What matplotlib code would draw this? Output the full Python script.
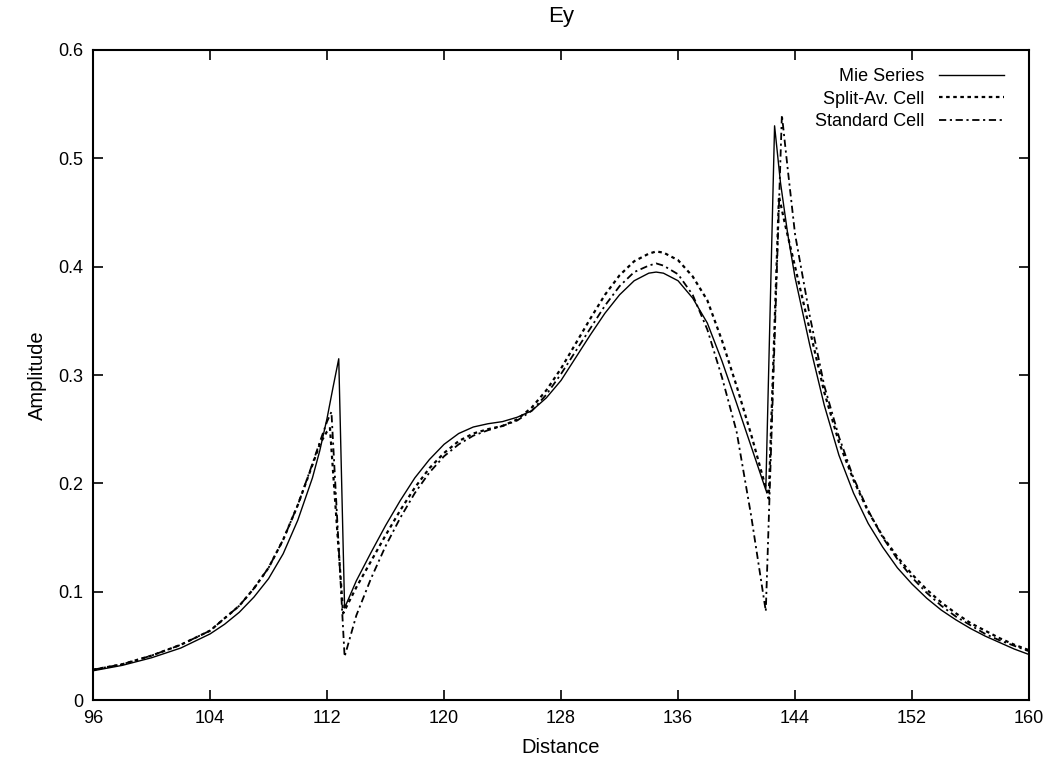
import numpy as np
import matplotlib
matplotlib.use("Agg")
import matplotlib.pyplot as plt

plt.rcParams['font.family'] = ['Liberation Sans', 'DejaVu Sans']

# Mie Series (exact solution)
mie_x = [96, 98, 100, 102, 104, 105, 106, 107, 108, 109, 110, 111, 111.5, 112, 112.4, 112.8,
         113.2, 114, 115, 116, 117, 118, 119, 120, 121, 122, 123, 124, 125, 126, 127, 128,
         129, 130, 131, 132, 133, 134, 134.5, 135, 136, 137, 138, 139, 140, 141, 142,
         142.6, 143, 143.5, 144, 145, 146, 147, 148, 149, 150, 151, 152, 153, 154, 155,
         156, 157, 158, 159, 160]
mie_y = [0.027, 0.032, 0.039, 0.048, 0.061, 0.070, 0.081, 0.095, 0.112, 0.135, 0.166, 0.205, 0.230, 0.260, 0.288, 0.315,
         0.085, 0.110, 0.136, 0.161, 0.184, 0.205, 0.222, 0.236, 0.246, 0.252, 0.255, 0.257, 0.261, 0.267, 0.279, 0.295,
         0.316, 0.337, 0.357, 0.374, 0.387, 0.394, 0.395, 0.394, 0.387, 0.371, 0.348, 0.313, 0.274, 0.234, 0.194,
         0.530, 0.478, 0.430, 0.390, 0.328, 0.272, 0.226, 0.191, 0.163, 0.141, 0.122, 0.107, 0.094, 0.083, 0.074,
         0.066, 0.059, 0.053, 0.047, 0.042]

# Split-Av. Cell
split_x = [96, 98, 100, 102, 104, 106, 107, 108, 109, 110, 111, 111.5, 112, 112.2,
           113.1, 114, 115, 116, 117, 118, 119, 120, 121, 122, 123, 124, 125, 126, 127, 128,
           129, 130, 131, 132, 133, 134, 134.5, 135, 136, 137, 138, 139, 140, 141, 142, 142.2,
           142.9, 143.3, 144, 145, 146, 147, 148, 149, 150, 151, 152, 153, 154, 155,
           156, 157, 158, 159, 160]
split_y = [0.028, 0.033, 0.041, 0.051, 0.064, 0.087, 0.103, 0.122, 0.148, 0.180, 0.217, 0.236, 0.248, 0.251,
           0.080, 0.104, 0.128, 0.152, 0.175, 0.196, 0.214, 0.228, 0.239, 0.246, 0.250, 0.253, 0.259, 0.270, 0.286, 0.306,
           0.329, 0.352, 0.374, 0.392, 0.405, 0.412, 0.414, 0.413, 0.406, 0.391, 0.369, 0.332, 0.290, 0.245, 0.196, 0.186,
           0.465, 0.440, 0.400, 0.342, 0.284, 0.238, 0.203, 0.174, 0.151, 0.132, 0.116, 0.102, 0.090, 0.080,
           0.071, 0.064, 0.057, 0.051, 0.046]

# Standard Cell
std_x = [96, 98, 100, 102, 104, 106, 107, 108, 109, 110, 111, 111.5, 112, 112.3,
         113.2, 114, 115, 116, 117, 118, 119, 120, 121, 122, 123, 124, 125, 126, 127, 128,
         129, 130, 131, 132, 133, 134, 134.5, 135, 136, 137, 138, 139, 140, 141, 142,
         143.1, 143.5, 144, 145, 146, 147, 148, 149, 150, 151, 152, 153, 154, 155,
         156, 157, 158, 159, 160]
std_y = [0.028, 0.033, 0.041, 0.051, 0.064, 0.087, 0.103, 0.122, 0.148, 0.180, 0.218, 0.238, 0.257, 0.266,
         0.040, 0.078, 0.112, 0.142, 0.168, 0.191, 0.210, 0.225, 0.236, 0.244, 0.249, 0.253, 0.258, 0.267, 0.282, 0.301,
         0.322, 0.343, 0.364, 0.382, 0.395, 0.401, 0.403, 0.401, 0.393, 0.374, 0.342, 0.298, 0.248, 0.170, 0.082,
         0.540, 0.490, 0.430, 0.355, 0.290, 0.243, 0.205, 0.175, 0.150, 0.130, 0.113, 0.099, 0.087, 0.077,
         0.069, 0.061, 0.055, 0.050, 0.045]

xticks = [96, 104, 112, 120, 128, 136, 144, 152, 160]
yticks = [0, 0.1, 0.2, 0.3, 0.4, 0.5, 0.6]
ytick_labels = ["0", "0.1", "0.2", "0.3", "0.4", "0.5", "0.6"]

fig = plt.figure(figsize=(10.55, 7.69), dpi=100)
ax = fig.add_axes([0.0882, 0.0897, 0.8872, 0.8453])

ax.plot(mie_x, mie_y, color='black', lw=1.0, label='Mie Series')
ax.plot(split_x, split_y, color='black', lw=1.6, linestyle=(0, (1.6, 1.6)), label='Split-Av. Cell')
ax.plot(std_x, std_y, color='black', lw=1.3, linestyle=(0, (4, 2, 1.2, 2)), label='Standard Cell')

ax.set_xlim(96, 160)
ax.set_ylim(0, 0.6)
ax.set_xticks(xticks)
ax.set_yticks(yticks)
ax.set_yticklabels(ytick_labels)
ax.tick_params(direction='in', length=7, width=1.2, top=True, right=True, labelsize=13, pad=7)
for s in ax.spines.values():
    s.set_linewidth(1.5)

ax.set_title('Ey', fontsize=16, pad=20)
ax.set_xlabel('Distance', fontsize=14.5, labelpad=8)
ax.set_ylabel('Amplitude', fontsize=14.5, labelpad=8)

ax.legend(loc='upper right', bbox_to_anchor=(0.973, 0.972), frameon=False, markerfirst=False,
          fontsize=13, handlelength=3.6, handletextpad=0.8, labelspacing=0.3, borderpad=0, borderaxespad=0)

fig.savefig('out.png', dpi=100)
